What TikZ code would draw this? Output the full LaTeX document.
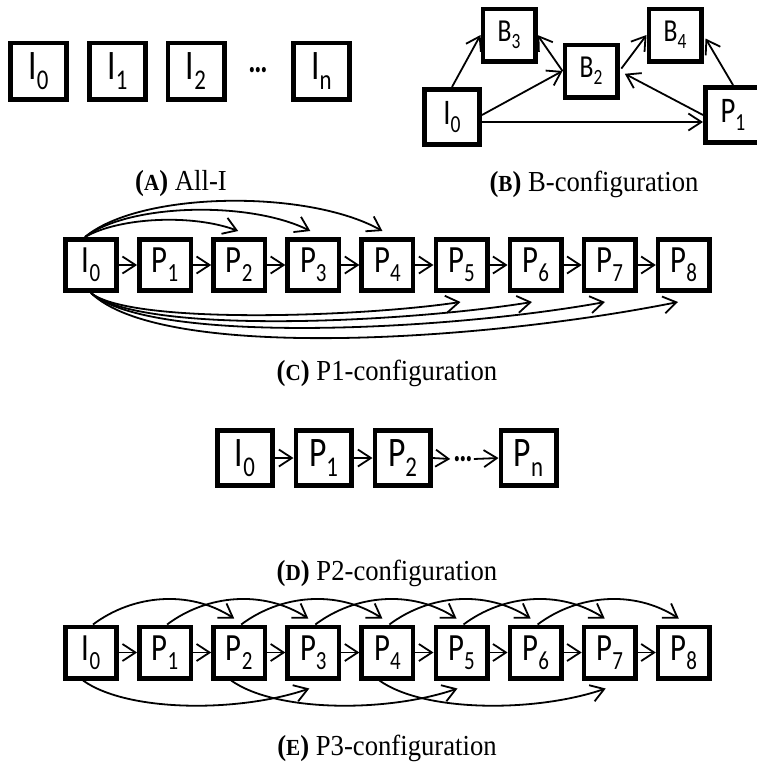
\documentclass[tikz,border=0pt]{standalone}
\usepackage{fontspec}
\usepackage{graphicx}
\setmainfont{Liberation Serif}
\newfontfamily\boxfont{Carlito}
\usetikzlibrary{arrows.meta}

% frame label: letter with a lowered, reduced subscript, set narrow
\newcommand\sub[2]{\scalebox{0.8}[1]{#1\raisebox{-0.23em}{\scalebox{0.68}{#2}}}}
% sub-figure caption: bold small-cap letter in parentheses
\newcommand\captext[2]{\scalebox{0.92}[1]{\textbf{(}{\bfseries\fontsize{23}{23}\selectfont #1}\textbf{)} #2}}
% ellipsis between frames
\newcommand\ellip{\scalebox{0.75}[1]{…}}

\tikzset{
  frame/.style={draw, line width=4.6pt, inner sep=0pt, minimum size=51.4pt,
    font=\boxfont\fontsize{38.5}{40}\selectfont},
  frameA/.style={frame, minimum size=56.4pt, font=\boxfont\fontsize{42}{44}\selectfont},
  frameD/.style={frame, minimum size=55.4pt, font=\boxfont\fontsize{42}{44}\selectfont},
  frameBI/.style={frame, minimum size=55.4pt, font=\boxfont\fontsize{36}{38}\selectfont},
  frameBB/.style={frame, minimum size=52.4pt, font=\boxfont\fontsize{32}{34}\selectfont},
  dots/.style={inner sep=0pt, font=\boxfont\bfseries\fontsize{36}{36}\selectfont},
  arr/.style={-{Straight Barb[length=13pt,width=17pt]}, line width=1.8pt},
  capt/.style={anchor=base, inner sep=0pt, font=\fontsize{29}{30}\selectfont},
}

\begin{document}
\begin{tikzpicture}[x=1pt,y=1pt]
\path[fill=white, use as bounding box] (0,0) rectangle (756,-771);

% ---------- (A) all intra frames ----------
\node[frameA] (a0) at (38.5,-71) {\sub{I}{0}};
\node[frameA] (a1) at (117.5,-71) {\sub{I}{1}};
\node[frameA] (a2) at (196,-71) {\sub{I}{2}};
\node[dots]   (ad) at (258,-70.5) {\ellip};
\node[frameA] (an) at (321.5,-71) {\sub{I}{n}};
\node[capt] (capA) at (181,-190) {\captext{A}{All-I}};

% ---------- (B) hierarchical B frames ----------
\node[frameBI] (b0) at (452,-117) {\sub{I}{0}};
\node[frameBB] (b3) at (509,-35) {\sub{B}{3}};
\node[frameBB] (b2) at (591,-71) {\sub{B}{2}};
\node[frameBB] (b4) at (675,-35) {\sub{B}{4}};
\node[frameBI] (bp) at (733,-115) {\sub{P}{1}};
\draw[arr] (b0.north) -- (b3.west);
\draw[arr] (b2.west) -- (b3.east);
\draw[arr, shorten <=3pt] (b2.east) -- (b4.west);
\draw[arr] ([yshift=2pt]b0.east) -- (b2.west);
\draw[arr] ([yshift=-5pt]b0.east) -- ([yshift=-7pt]bp.west);
\draw[arr, shorten >=6pt] (bp.west) -- (b2.east);
\draw[arr, shorten >=4pt] (bp.north) -- (b4.east);
\node[capt] (capB) at (594,-191) {\captext{B}{B-configuration}};

% ---------- (C) P1 configuration ----------
\node[frame] (c0) at (91,-265) {\sub{I}{0}};
\foreach \k in {1,...,8}
  \node[frame] (c\k) at ({91+74.1*\k},-265) {\sub{P}{\k}};
\foreach \k [evaluate=\k as \n using int(\k+1)] in {0,...,7}
  \draw[arr] (c\k.east) -- (c\n.west);
\draw[arr] ([xshift=-6pt]c0.north) .. controls +(35,20) and +(-45,17) .. ([xshift=-1pt,yshift=6pt]c2.north);
\draw[arr] ([xshift=-6pt]c0.north) .. controls +(45,34) and +(-60,30) .. ([xshift=-3pt,yshift=6pt]c3.north);
\draw[arr] ([xshift=-6pt]c0.north) .. controls +(55,46) and +(-75,42) .. ([xshift=-5pt,yshift=6pt]c4.north);
\draw[arr] (c0.south) .. controls +(40,-32) and +(-100,-15) .. ([xshift=-1pt,yshift=-9pt]c5.south);
\draw[arr] (c0.south) .. controls +(50,-42) and +(-130,-21) .. ([xshift=-3.6pt,yshift=-9pt]c6.south);
\draw[arr] (c0.south) .. controls +(60,-52) and +(-160,-29) .. ([xshift=-4.7pt,yshift=-9pt]c7.south);
\draw[arr] (c0.south) .. controls +(70,-68) and +(-200,-40) .. ([xshift=-5.8pt,yshift=-9pt]c8.south);
\node[capt] (capC) at (387,-380) {\captext{C}{P1-configuration}};

% ---------- (D) P2 configuration ----------
\node[frameD] (d0) at (245,-458) {\sub{I}{0}};
\node[frameD] (d1) at (323.5,-458) {\sub{P}{1}};
\node[frameD] (d2) at (402.5,-458) {\sub{P}{2}};
\node[dots]   (dd) at (463,-459) {\ellip};
\node[frameD] (dn) at (528.5,-458) {\sub{P}{n}};
\draw[arr] (d0.east) -- (d1.west);
\draw[arr] (d1.east) -- (d2.west);
\draw[arr] (d2.east) -- ([xshift=-3pt]dd.west);
\draw[arr] ([xshift=1pt]dd.east) -- (dn.west);
\node[capt] (capD) at (387,-580) {\captext{D}{P2-configuration}};

% ---------- (E) P3 configuration ----------
\node[frame] (e0) at (91,-652.5) {\sub{I}{0}};
\foreach \k in {1,...,8}
  \node[frame] (e\k) at ({91+74.1*\k},-652.5) {\sub{P}{\k}};
\foreach \k [evaluate=\k as \n using int(\k+1)] in {0,...,7}
  \draw[arr] (e\k.east) -- (e\n.west);
\foreach \k [evaluate=\k as \n using int(\k+2)] in {0,...,6}
  \draw[arr] ([xshift=2pt]e\k.north) .. controls +(40,30) and +(-45,29) .. ([xshift=-5pt,yshift=6pt]e\n.north);
\foreach \k [evaluate=\k as \n using int(\k+3)] in {0,2,4}
  \draw[arr] ([xshift=-8pt]e\k.south) .. controls +(45,-32) and +(-70,-24) .. ([xshift=-4pt,yshift=-8pt]e\n.south);
\node[capt] (capE) at (387,-755) {\captext{E}{P3-configuration}};
\end{tikzpicture}
\end{document}
